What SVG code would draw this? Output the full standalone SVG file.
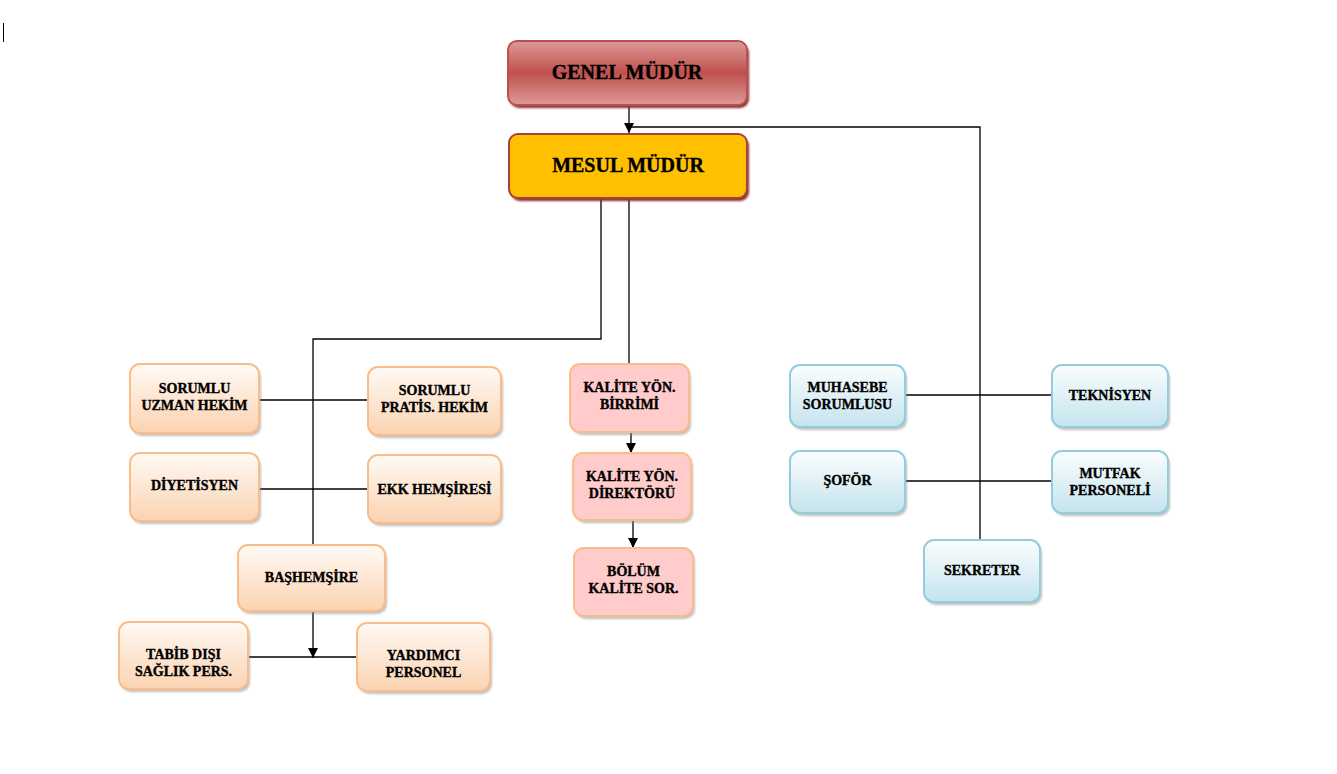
<svg xmlns="http://www.w3.org/2000/svg" width="1337" height="774" viewBox="0 0 1337 774">
<defs>
<linearGradient id="gRed" x1="0" y1="0" x2="0" y2="1">
<stop offset="0" stop-color="#dc9a98"/><stop offset="0.5" stop-color="#c0504d"/><stop offset="1" stop-color="#dc9a98"/>
</linearGradient>
<linearGradient id="gOr" x1="0" y1="0" x2="0" y2="1">
<stop offset="0" stop-color="#fffaf5"/><stop offset="1" stop-color="#fbd3b1"/>
</linearGradient>
<linearGradient id="gBl" x1="0" y1="0" x2="0" y2="1">
<stop offset="0" stop-color="#fbfdfe"/><stop offset="1" stop-color="#c4e4ee"/>
</linearGradient>
<filter id="blur" x="-10%" y="-10%" width="120%" height="130%"><feGaussianBlur stdDeviation="1.2"/></filter>
<marker id="arr" viewBox="0 0 10 10" refX="10" refY="5" markerWidth="10" markerHeight="10" markerUnits="userSpaceOnUse" orient="auto">
<path d="M0,0 L10,5 L0,10 Z" fill="#000"/>
</marker>
</defs>
<style>
text{font-family:"Liberation Serif","Times New Roman",serif;font-weight:bold;fill:#000;stroke:#000;stroke-width:0.35;text-anchor:middle}
.s{font-size:14px}
.b{font-size:20px}
.sh{fill:#8c8c8c;opacity:0.55;filter:url(#blur)}
.shr{fill:#8a2f2d;filter:url(#blur)}
.or{fill:url(#gOr);stroke:#f9bd8c;stroke-width:2}
.bl{fill:url(#gBl);stroke:#93cddd;stroke-width:2}
.pk{fill:#ffcbcb;stroke:#f9bd8c;stroke-width:2}
.c{fill:none;stroke:#000;stroke-width:1.3}
</style>
<rect width="1337" height="774" fill="#fff"/>
<line x1="3.5" y1="23" x2="3.5" y2="42" stroke="#000" stroke-width="1"/>

<g id="connectors">
<line class="c" x1="629" y1="105" x2="629" y2="133" marker-end="url(#arr)"/>
<polyline class="c" points="980,540 980,127 629,127"/>
<polyline class="c" points="601,198 601,339 313,339 313,545"/>
<line class="c" x1="629" y1="198" x2="629" y2="364"/>
<line class="c" x1="259" y1="400" x2="368" y2="400"/>
<line class="c" x1="259" y1="489" x2="368" y2="489"/>
<line class="c" x1="313" y1="611" x2="313" y2="658" marker-end="url(#arr)"/>
<line class="c" x1="248" y1="657" x2="357" y2="657"/>
<line class="c" x1="631" y1="432" x2="631" y2="453" marker-end="url(#arr)"/>
<line class="c" x1="633" y1="520" x2="633" y2="548" marker-end="url(#arr)"/>
<line class="c" x1="905" y1="395" x2="1052" y2="395"/>
<line class="c" x1="905" y1="481" x2="1052" y2="481"/>
</g>

<g id="genel">
<rect class="shr" x="510" y="44" width="239" height="64" rx="9"/>
<rect x="508" y="41" width="239" height="64" rx="9" fill="url(#gRed)" stroke="#b9504d" stroke-width="2"/>
<text class="b" x="627" y="79">GENEL MÜDÜR</text>
</g>
<g id="mesul">
<rect class="shr" x="511" y="137" width="238" height="64" rx="9"/>
<rect x="509" y="134" width="238" height="64" rx="9" fill="#ffc000" stroke="#a8403d" stroke-width="2"/>
<text class="b" x="628" y="172">MESUL MÜDÜR</text>
</g>

<g id="uzman">
<rect class="sh" x="132" y="367" width="129" height="69" rx="10"/>
<rect class="or" x="130" y="364" width="129" height="69" rx="10"/>
<text class="s" x="194.5" y="393">SORUMLU</text><text class="s" x="194.5" y="410">UZMAN HEKİM</text>
</g>
<g id="pratis">
<rect class="sh" x="370" y="370" width="133" height="68" rx="10"/>
<rect class="or" x="368" y="367" width="133" height="68" rx="10"/>
<text class="s" x="434.5" y="395">SORUMLU</text><text class="s" x="434.5" y="412">PRATİS. HEKİM</text>
</g>
<g id="diyetisyen">
<rect class="sh" x="132" y="456" width="129" height="68" rx="10"/>
<rect class="or" x="130" y="453" width="129" height="68" rx="10"/>
<text class="s" x="194.5" y="490">DİYETİSYEN</text>
</g>
<g id="ekk">
<rect class="sh" x="370" y="458" width="133" height="68" rx="10"/>
<rect class="or" x="368" y="455" width="133" height="68" rx="10"/>
<text class="s" x="434.5" y="494">EKK HEMŞİRESİ</text>
</g>
<g id="bashemsire">
<rect class="sh" x="240" y="548" width="147" height="66" rx="10"/>
<rect class="or" x="238" y="545" width="147" height="66" rx="10"/>
<text class="s" x="311.5" y="582">BAŞHEMŞİRE</text>
</g>
<g id="tabib">
<rect class="sh" x="121" y="625" width="129" height="67" rx="10"/>
<rect class="or" x="119" y="622" width="129" height="67" rx="10"/>
<text class="s" x="183.5" y="659">TABİB DIŞI</text><text class="s" x="183.5" y="676">SAĞLIK PERS.</text>
</g>
<g id="yardimci">
<rect class="sh" x="359" y="626" width="133" height="68" rx="10"/>
<rect class="or" x="357" y="623" width="133" height="68" rx="10"/>
<text class="s" x="423.5" y="660">YARDIMCI</text><text class="s" x="423.5" y="677">PERSONEL</text>
</g>

<g id="kalite1">
<rect class="sh" x="572" y="367" width="119" height="68" rx="10"/>
<rect class="pk" x="570" y="364" width="119" height="68" rx="10"/>
<text class="s" x="629.5" y="392">KALİTE YÖN.</text><text class="s" x="629.5" y="409">BİRRİMİ</text>
</g>
<g id="kalite2">
<rect class="sh" x="575" y="456" width="118" height="67" rx="10"/>
<rect class="pk" x="573" y="453" width="118" height="67" rx="10"/>
<text class="s" x="632" y="481">KALİTE YÖN.</text><text class="s" x="632" y="498">DİREKTÖRÜ</text>
</g>
<g id="kalite3">
<rect class="sh" x="576" y="551" width="119" height="68" rx="10"/>
<rect class="pk" x="574" y="548" width="119" height="68" rx="10"/>
<text class="s" x="633.5" y="576">BÖLÜM</text><text class="s" x="633.5" y="593">KALİTE SOR.</text>
</g>

<g id="muhasebe">
<rect class="sh" x="792" y="368" width="115" height="62" rx="10"/>
<rect class="bl" x="790" y="365" width="115" height="62" rx="10"/>
<text class="s" x="847.5" y="392">MUHASEBE</text><text class="s" x="847.5" y="409">SORUMLUSU</text>
</g>
<g id="teknisyen">
<rect class="sh" x="1054" y="368" width="116" height="62" rx="10"/>
<rect class="bl" x="1052" y="365" width="116" height="62" rx="10"/>
<text class="s" x="1110" y="400">TEKNİSYEN</text>
</g>
<g id="sofor">
<rect class="sh" x="792" y="454" width="115" height="62" rx="10"/>
<rect class="bl" x="790" y="451" width="115" height="62" rx="10"/>
<text class="s" x="847.5" y="485">ŞOFÖR</text>
</g>
<g id="mutfak">
<rect class="sh" x="1054" y="454" width="116" height="62" rx="10"/>
<rect class="bl" x="1052" y="451" width="116" height="62" rx="10"/>
<text class="s" x="1110" y="478">MUTFAK</text><text class="s" x="1110" y="495">PERSONELİ</text>
</g>
<g id="sekreter">
<rect class="sh" x="926" y="543" width="116" height="62" rx="10"/>
<rect class="bl" x="924" y="540" width="116" height="62" rx="10"/>
<text class="s" x="982" y="575">SEKRETER</text>
</g>
</svg>
